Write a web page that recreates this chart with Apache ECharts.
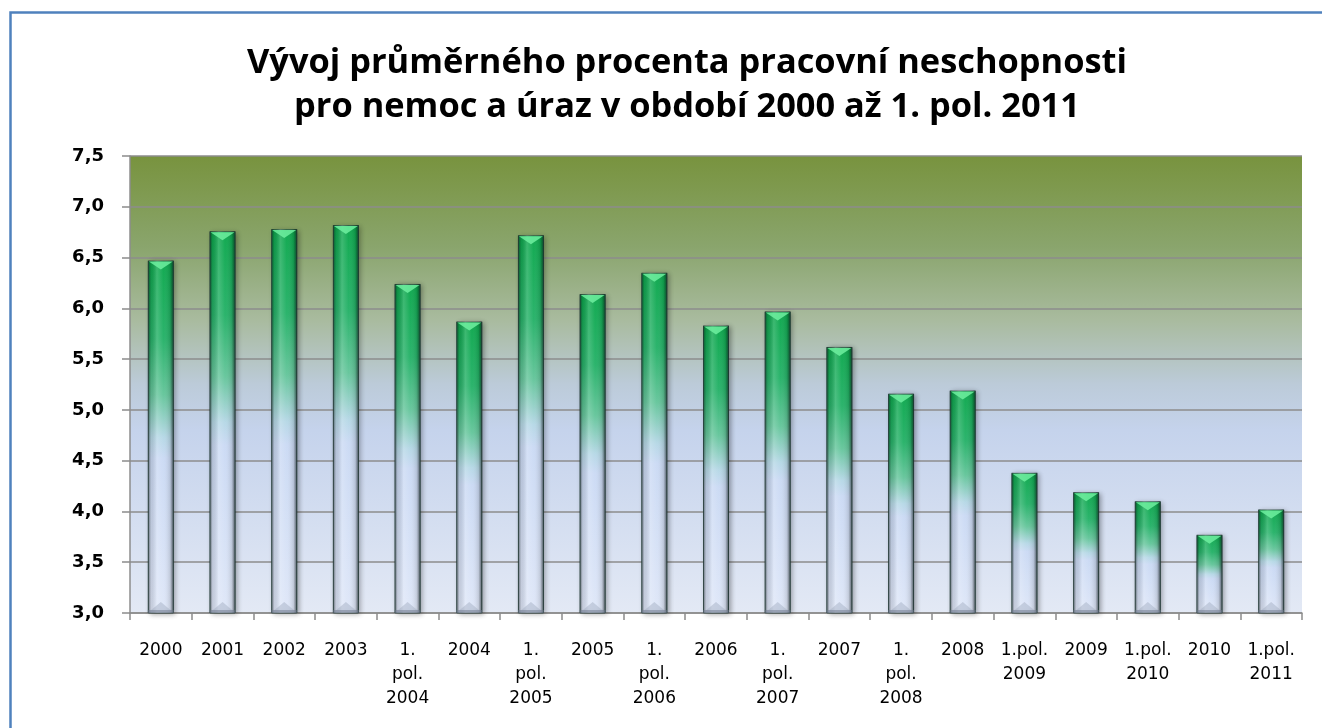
<!DOCTYPE html>
<html><head><meta charset="utf-8">
<script src="https://cdn.jsdelivr.net/npm/echarts@6/dist/echarts.min.js"></script>
<style>html,body{margin:0;padding:0;background:#fff;overflow:hidden}#c{width:1322px;height:728px}</style>
</head><body><div id="c"></div>
<script>
const categories = ["2000","2001","2002","2003","1.\npol.\n2004","2004","1.\npol.\n2005","2005","1.\npol.\n2006","2006","1.\npol.\n2007","2007","1.\npol.\n2008","2008","1.pol.\n2009","2009","1.pol.\n2010","2010","1.pol.\n2011"];
const values = [6.47,6.76,6.78,6.82,6.24,5.87,6.72,6.14,6.35,5.83,5.97,5.62,5.16,5.19,4.38,4.19,4.10,3.77,4.02];
const yMin = 3.0, yMax = 7.5, yStep = 0.5;
const titleText = "Vývoj průměrného procenta pracovní neschopnosti\npro nemoc a úraz v období 2000 až 1. pol. 2011";

const BW = 26;
const chart = echarts.init(document.getElementById('c'), null, {renderer:'canvas'});
const barGrad = new echarts.graphic.LinearGradient(0,0,0,1,[
  {offset:0, color:'#0ea84e'},
  {offset:0.22, color:'#27b269'},
  {offset:0.38, color:'#66c69c'},
  {offset:0.5, color:'#b6d8e6'},
  {offset:0.56, color:'#cbdaf4'},
  {offset:1, color:'#dfe7f8'}
]);
chart.setOption({
  animation:false,
  backgroundColor:'#ffffff',
  graphic:[{type:'rect', z:-10, shape:{x:10.5,y:12.5,width:1340,height:740}, style:{fill:'#ffffff', stroke:'#4f81bd', lineWidth:2.5}}],
  title:{text:titleText, left:682, textAlign:'center', top:36,
    textStyle:{fontFamily:'Open Sans', fontWeight:'bold', fontSize:34.4, lineHeight:44, color:'#000'}},
  grid:{left:130, right:20, top:156, bottom:115, show:true, borderWidth:0,
    backgroundColor:new echarts.graphic.LinearGradient(0,0,0,1,[
      {offset:0, color:'#78933e'},
      {offset:0.2, color:'#8aa56d'},
      {offset:0.36, color:'#a9bb9f'},
      {offset:0.5, color:'#bccbd9'},
      {offset:0.6, color:'#c5d3ec'},
      {offset:1, color:'#e3e9f5'}
    ])},
  xAxis:{type:'category', data:categories,
    axisLine:{lineStyle:{color:'#8c8c8c', width:1.5}},
    axisTick:{show:true, length:7, lineStyle:{color:'#8c8c8c', width:1.5}},
    axisLabel:{interval:0, margin:26, fontFamily:'DejaVu Sans', fontSize:17, lineHeight:24, color:'#000'}},
  yAxis:{type:'value', min:yMin, max:yMax, interval:yStep,
    axisLine:{show:true, lineStyle:{color:'#8c8c8c', width:1.5}},
    axisTick:{show:true, length:8, lineStyle:{color:'#8c8c8c', width:1.5}},
    splitLine:{lineStyle:{color:'#8c8c8c', width:1.5}},
    axisLabel:{margin:26, fontFamily:'DejaVu Sans', fontWeight:'bold', fontSize:18, color:'#000',
      formatter:v=>v.toFixed(1).replace('.',',')}},
  series:[
    {type:'bar', data:values, barWidth:BW, z:2,
      itemStyle:{color:barGrad, borderColor:'rgba(40,70,60,0.7)', borderWidth:1,
        shadowColor:'rgba(0,0,0,0.35)', shadowBlur:5, shadowOffsetX:2, shadowOffsetY:1}},
    {type:'custom', silent:true, z:3, data:values.map((v,i)=>[i,v]),
      renderItem:function(params, api){
        const c = api.value(0), v = api.value(1);
        const p = api.coord([c, v]);
        const b = api.coord([c, yMin]);
        const x0 = p[0]-BW/2, x1 = p[0]+BW/2, top = p[1], bot = b[1];
        return {type:'group', children:[
          {type:'rect', shape:{x:x0, y:top, width:BW, height:bot-top},
            style:{fill:new echarts.graphic.LinearGradient(0,0,1,0,[
              {offset:0, color:'rgba(20,40,40,0.6)'},
              {offset:0.12, color:'rgba(0,0,0,0.08)'},
              {offset:0.35, color:'rgba(255,255,255,0.18)'},
              {offset:0.6, color:'rgba(255,255,255,0.02)'},
              {offset:0.86, color:'rgba(0,0,0,0.12)'},
              {offset:1, color:'rgba(20,40,40,0.7)'}])}},
          {type:'polygon', shape:{points:[[x0+1,top+1],[x1-1,top+1],[p[0],top+9]]},
            style:{fill:'rgba(110,240,160,0.85)'}},
          {type:'polygon', shape:{points:[[x0+1,bot-1],[x1-1,bot-1],[p[0],bot-11]]},
            style:{fill:'rgba(160,170,190,0.45)'}},
          {type:'rect', shape:{x:x0, y:bot-3, width:BW, height:3}, style:{fill:'rgba(110,120,140,0.5)'}}
        ]};
      }}
  ]
});
</script></body></html>
